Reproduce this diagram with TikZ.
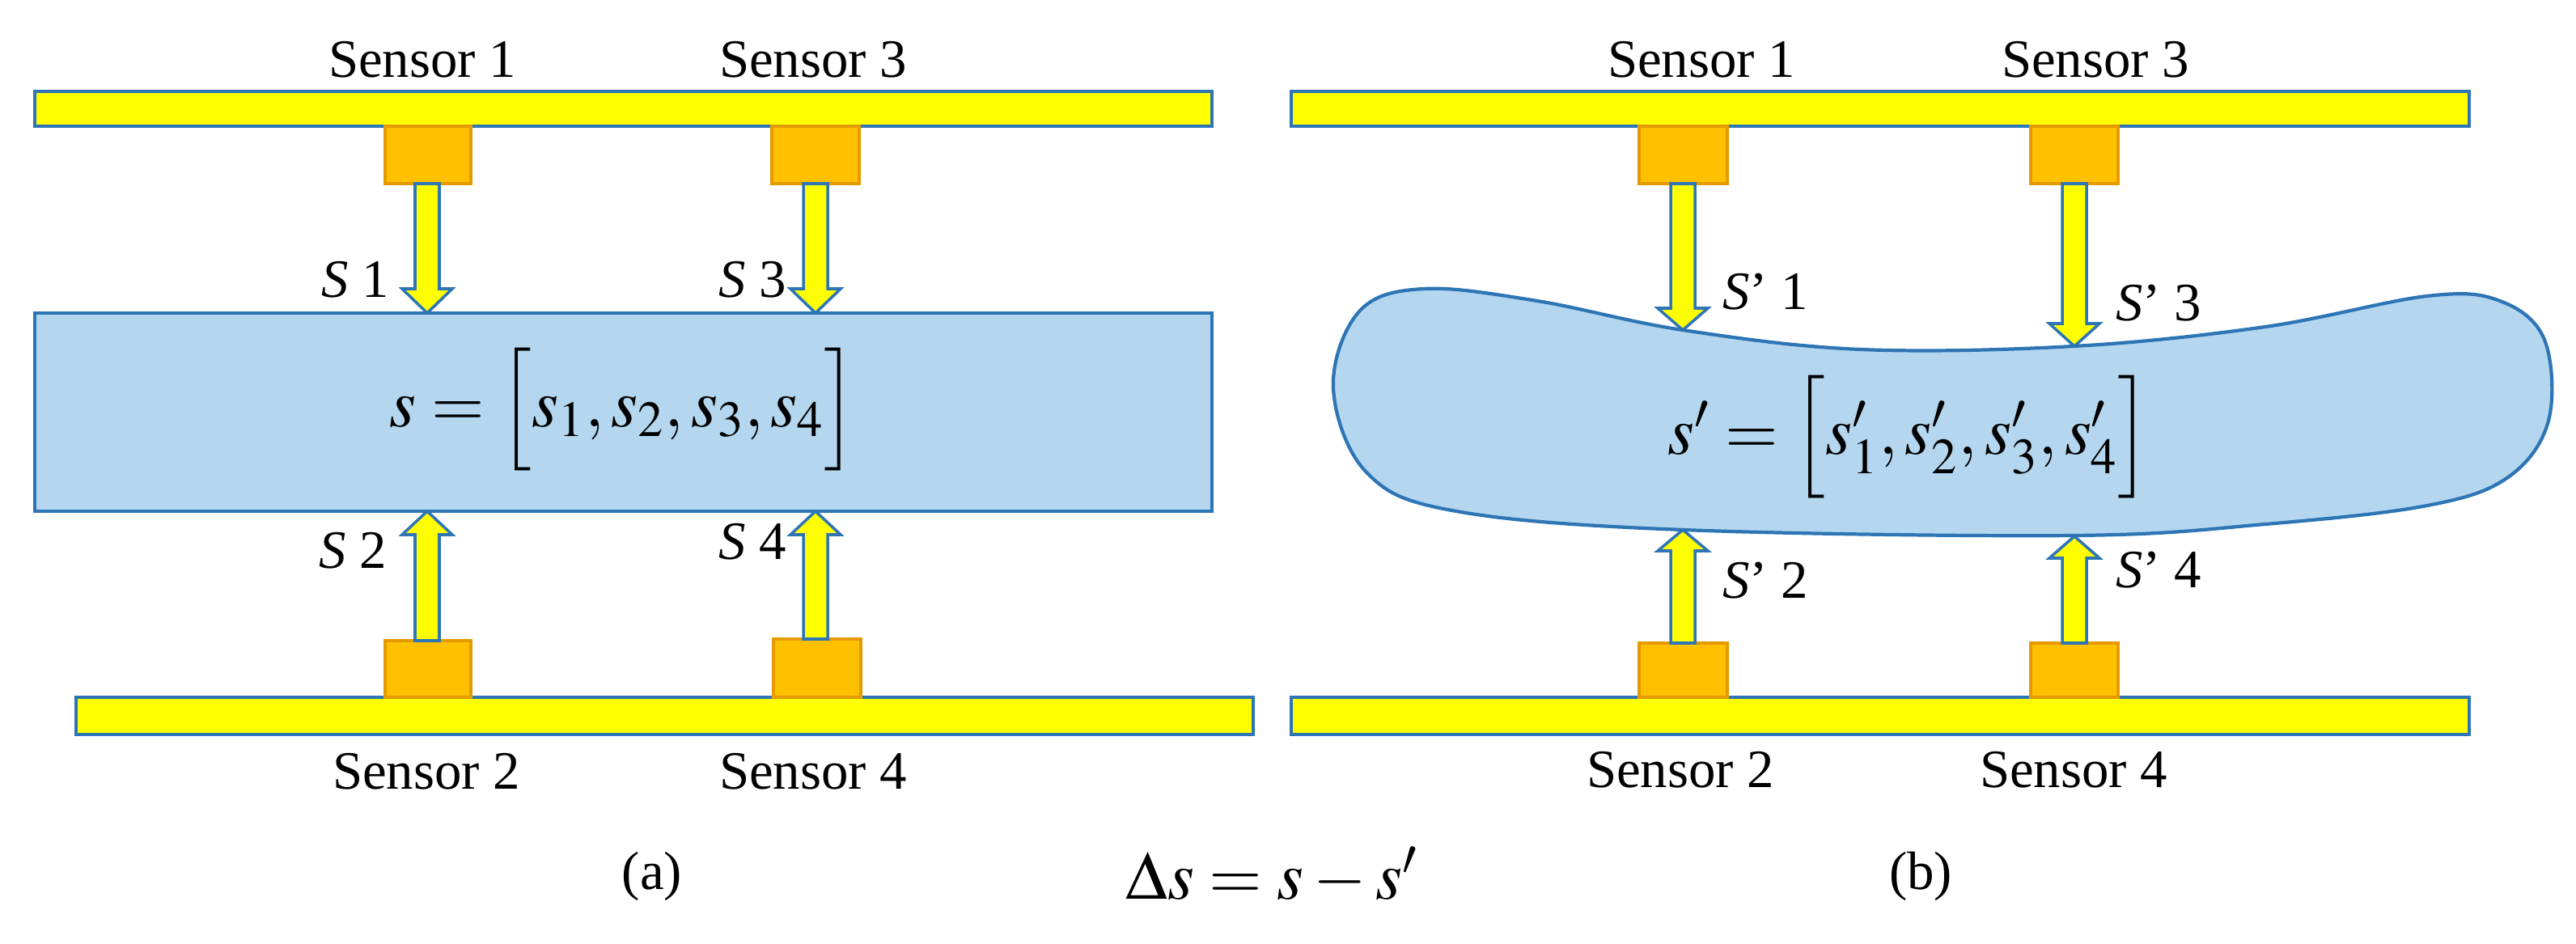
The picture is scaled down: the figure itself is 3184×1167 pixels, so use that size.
\documentclass[tikz,border=0pt]{standalone}
\usepackage{mathptmx}
\usepackage{fontspec}
\setmainfont{Liberation Serif}
\newfontfamily\tnr{Liberation Serif}
\begin{document}
\definecolor{bar}{HTML}{FFFF00}
\definecolor{edge}{HTML}{2E75B6}
\definecolor{sens}{HTML}{FFC000}
\definecolor{sensedge}{HTML}{E59A00}
\definecolor{body}{HTML}{B4D7EF}
\begin{tikzpicture}[x=0.01cm,y=-0.01cm,
  barst/.style={fill=bar,draw=edge,line width=1.2pt},
  sensst/.style={fill=sens,draw=sensedge,line width=1pt},
  arr/.style={fill=bar,draw=edge,line width=1pt},
  bodyst/.style={fill=body,draw=edge,line width=1.2pt},
  lab/.style={font=\tnr\fontsize{19}{22}\selectfont,inner sep=0pt},
  frm/.style={font=\fontsize{24}{28}\selectfont,inner sep=0pt}]
\useasboundingbox (0,0) rectangle (3184,1167);
\newcommand\darr[4]{% x, top, headbase, tip
  \draw[arr] (#1-15,#2) -- (#1+15,#2) -- (#1+15,#3) -- (#1+31,#3) -- (#1,#4) -- (#1-31,#3) -- (#1-15,#3) -- cycle;}
% ---------- (a)
\draw[barst] (43,113) rectangle (1498,156);
\draw[barst] (94,862) rectangle (1549,908);
\draw[bodyst] (43,387) rectangle (1498,632);
\draw[sensst] (476,156) rectangle (582,227);
\draw[sensst] (954,156) rectangle (1062,227);
\draw[sensst] (476,792) rectangle (582,862);
\draw[sensst] (956,790) rectangle (1064,862);
\darr{528}{227}{357}{387}
\darr{1008}{227}{357}{387}
\darr{528}{792}{661}{632}
\darr{1008}{790}{661}{632}
\node[lab] (sa1) at (522,74) {Sensor 1};
\node[lab] (sa3) at (1005,74) {Sensor 3};
\node[lab] (sa2) at (527,954) {Sensor 2};
\node[lab] (sa4) at (1005,954) {Sensor 4};
\node[lab] (la1) at (439,346) {\textit{S} 1};
\node[lab] (la3) at (930,346) {\textit{S} 3};
\node[lab] (la2) at (436,681) {\textit{S} 2};
\node[lab] (la4) at (930,670) {\textit{S} 4};
\node[frm] (fa) at (770,506) {$s=\Big[s_1,s_2,s_3,s_4\Big]$};
\node[lab] (capa) at (806,1083) {(a)};
\node[frm] (delta) at (1572,1083) {$\Delta s = s - s'$};
% ---------- (b)
\draw[barst] (1596,113) rectangle (3052,156);
\draw[barst] (1596,862) rectangle (3052,908);
\draw[bodyst] plot[smooth cycle, tension=0.6] coordinates {(1760,357) (1900,372) (2080,408) (2300,432) (2563,428) (2800,404) (3000,366) (3090,372) (3145,420) (3150,520) (3100,590) (3000,625) (2800,648) (2563,662) (2080,655) (1800,632) (1690,585) (1648,480) (1680,385)};
\draw[sensst] (2026,156) rectangle (2135,227);
\draw[sensst] (2510,156) rectangle (2618,227);
\draw[sensst] (2026,795) rectangle (2135,862);
\draw[sensst] (2510,795) rectangle (2618,862);
\darr{2080}{227}{381}{408}
\darr{2564}{227}{400}{428}
\darr{2080}{795}{681}{655}
\darr{2564}{795}{690}{663}
\node[lab] (sb1) at (2103,74) {Sensor 1};
\node[lab] (sb3) at (2590,74) {Sensor 3};
\node[lab] (sb2) at (2077,952) {Sensor 2};
\node[lab] (sb4) at (2563,952) {Sensor 4};
\node[lab] (lb1) at (2182,361) {\textit{S}’ 1};
\node[lab] (lb3) at (2668,375) {\textit{S}’ 3};
\node[lab] (lb2) at (2182,718) {\textit{S}’ 2};
\node[lab] (lb4) at (2668,705) {\textit{S}’ 4};
\node[frm,anchor=west] (fb) at (2061,540) {$s'=\Big[s_1',s_2',s_3',s_4'\Big]$};
\node[lab] (capb) at (2374,1083) {(b)};
\end{tikzpicture}
\end{document}
